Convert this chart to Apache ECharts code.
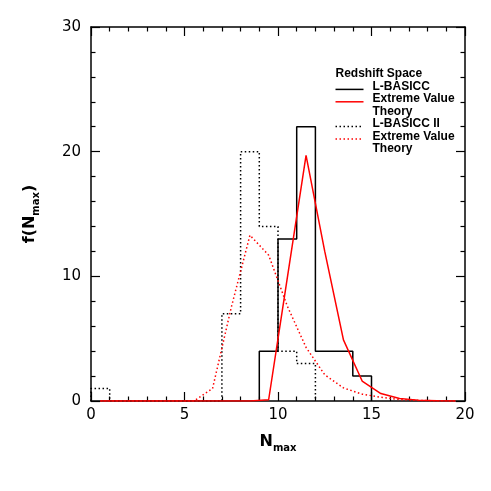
<!DOCTYPE html>
<html>
<head>
<meta charset="utf-8">
<style>
	html, body { margin: 0; padding: 0; background: #fff; }
	#chart { width: 491px; height: 491px; }
</style>
</head>
<body>
	<div id="chart"></div>
	<script src="https://cdn.jsdelivr.net/npm/echarts@6/dist/echarts.min.js"></script>
	<script>
		// histograms: bin edges + counts
		var lbEdges = [9, 10, 11, 12, 13, 14, 15];
		var lbCounts = [4, 13, 22, 4, 4, 2];
		var lb2Edges = [0, 1, 2, 3, 4, 5, 6, 7, 8, 9, 10, 11, 12];
		var lb2Counts = [1, 0, 0, 0, 0, 0, 0, 7, 20, 14, 4, 3];

		// extreme value theory curves, sampled at bin centres
		var evtX = [0.5, 1.5, 2.5, 3.5, 4.5, 5.5, 6.5, 7.5, 8.5, 9.5, 10.5, 11.5, 12.5, 13.5, 14.5, 15.5, 16.5, 17.5, 18.5, 19.5];
		var evtA = [0, 0, 0, 0, 0, 0, 0, 0, 0, 0.1, 9.9, 19.7, 12.0, 4.9, 1.6, 0.6, 0.2, 0.07, 0.02, 0];
		var evtB = [0, 0, 0, 0, 0, 0, 1.0, 7.5, 13.3, 11.7, 7.6, 4.3, 2.1, 1.05, 0.55, 0.3, 0.12, 0.05, 0.02, 0];

		var legendRows = [
			{ text: 'L-BASICC', color: '#000', type: 'solid' },
			{ text: 'Extreme Value\nTheory', color: '#ff0000', type: 'solid' },
			{ text: 'L-BASICC II', color: '#000', type: [1.5, 2.5] },
			{ text: 'Extreme Value\nTheory', color: '#ff0000', type: [1.5, 2.5] }
		];

		function histPoints(edges, counts) {
			var pts = [[edges[0], 0]];
			for (var i = 0; i < counts.length; i++) {
				pts.push([edges[i], counts[i]]);
				pts.push([edges[i + 1], counts[i]]);
			}
			pts.push([edges[edges.length - 1], 0]);
			return pts;
		}
		function pairs(xs, ys) {
			return xs.map(function (x, i) { return [x, ys[i]]; });
		}

		var font = 'DejaVu Sans';
		var axisCommon = {
			axisLine: { onZero: false, lineStyle: { color: '#000', width: 1.5 } },
			axisTick: { inside: true, length: 9, lineStyle: { color: '#000', width: 1.2 } },
			minorTick: { show: true, splitNumber: 5, length: 4.5, lineStyle: { color: '#000', width: 1.2 } },
			splitLine: { show: false }
		};

		// legend drawn as graphic block
		var lg = [{
			type: 'text', left: 0, top: 0,
			style: { text: 'Redshift Space', font: 'bold 12px "Liberation Sans"', fill: '#000' }
		}];
		var rowY = 12.4;
		var lineIdx = 1;
		legendRows.forEach(function (r) {
			var y = lineIdx * rowY;
			lg.push({
				type: 'line', shape: { x1: 0, y1: y + 9, x2: 28, y2: y + 9 },
				style: { stroke: r.color, lineWidth: 1.5, lineDash: r.type === 'solid' ? null : r.type }
			});
			lg.push({
				type: 'text', x: 37, y: y,
				style: { text: r.text, font: 'bold 12px "Liberation Sans"', lineHeight: rowY, fill: '#000' }
			});
			lineIdx += r.text.split('\n').length;
		});

		var myChart = echarts.init(document.getElementById('chart'));
		var option = {
			animation: false,
			grid: { left: 91, right: 26, top: 27, bottom: 90 },
			xAxis: [
				Object.assign({
					type: 'value', min: 0, max: 20, interval: 5, position: 'bottom',
					axisLabel: { fontFamily: font, fontSize: 15, color: '#000', margin: 7 },
					name: '{a|N}{b|max}', nameLocation: 'middle', nameGap: 30,
					nameTextStyle: {
						rich: {
							a: { fontFamily: font, fontSize: 16, fontWeight: 'bold', color: '#000' },
							b: { fontFamily: font, fontSize: 10, fontWeight: 'bold', color: '#000', padding: [12, 0, 0, 0] }
						}
					}
				}, axisCommon),
				Object.assign({
					type: 'value', min: 0, max: 20, interval: 5, position: 'top',
					axisLabel: { show: false }
				}, axisCommon)
			],
			yAxis: [
				Object.assign({
					type: 'value', min: 0, max: 30, interval: 10, position: 'left',
					axisLabel: { fontFamily: font, fontSize: 15, color: '#000', margin: 10 },
					name: '{a|f(N}{b|max}{a|)}', nameLocation: 'middle', nameGap: 50, nameRotate: 90,
					nameTextStyle: {
						rich: {
							a: { fontFamily: font, fontSize: 16, fontWeight: 'bold', color: '#000' },
							b: { fontFamily: font, fontSize: 10, fontWeight: 'bold', color: '#000', padding: [12, 0, 0, 0] }
						}
					}
				}, axisCommon),
				Object.assign({
					type: 'value', min: 0, max: 30, interval: 10, position: 'right',
					axisLabel: { show: false }
				}, axisCommon)
			],
			graphic: [{ type: 'group', left: 333, top: 68, children: lg }],
			series: [
				{
					name: 'L-BASICC', type: 'line', symbol: 'none',
					data: histPoints(lbEdges, lbCounts),
					lineStyle: { color: '#000', width: 1.5 }
				},
				{
					name: 'L-BASICC II', type: 'line', symbol: 'none',
					data: histPoints(lb2Edges, lb2Counts),
					lineStyle: { color: '#000', width: 1.5, type: [1.5, 2.5] }
				},
				{
					name: 'Extreme Value Theory', type: 'line', symbol: 'none',
					data: pairs(evtX, evtA),
					lineStyle: { color: '#ff0000', width: 1.5 }
				},
				{
					name: 'Extreme Value Theory II', type: 'line', symbol: 'none',
					data: pairs(evtX, evtB),
					lineStyle: { color: '#ff0000', width: 1.5, type: [1.5, 2.5] }
				}
			]
		};
		myChart.setOption(option);
	</script>
</body>
</html>
